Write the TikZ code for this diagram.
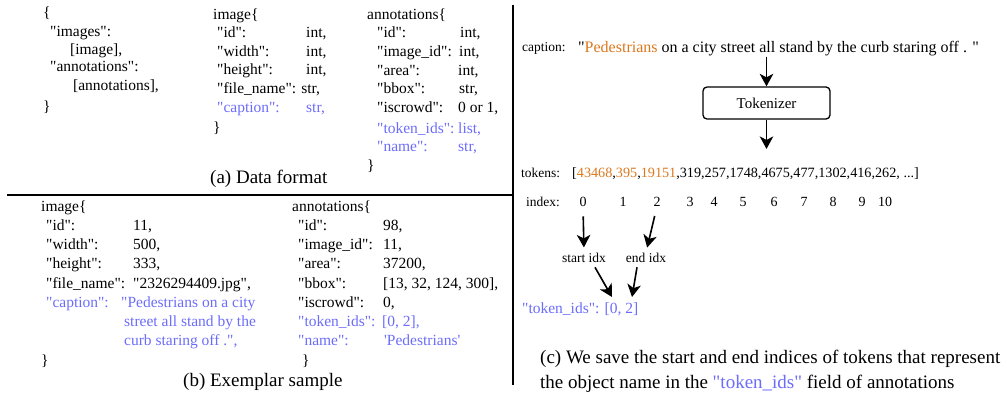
\documentclass[tikz,border=0pt]{standalone}
\usepackage{fontspec}
\newfontfamily\tnr{Liberation Serif}
\usetikzlibrary{arrows.meta}
\definecolor{kblue}{RGB}{108,108,250}
\definecolor{korange}{RGB}{218,120,30}
\begin{document}
\begin{tikzpicture}[x=1pt,y=-1pt,
  tx/.style={anchor=base west,inner sep=0pt,font=\tnr\fontsize{15.5}{18}\selectfont},
  sm/.style={anchor=base west,inner sep=0pt,font=\tnr\fontsize{13.5}{16}\selectfont},
  capt/.style={anchor=base west,inner sep=0pt,font=\tnr\fontsize{19}{22}\selectfont},
  dig/.style={anchor=base,inner sep=0pt,font=\tnr\fontsize{14}{16}\selectfont},
  bl/.style={text=kblue},
  arr/.style={-{Stealth[length=12.5pt,width=13.5pt,inset=3.5pt]},line width=1.6pt},
  sepline/.style={line width=1.5pt}]
\useasboundingbox (0,0) rectangle (1003,393);
% separators
\draw[sepline] (513,5) -- (513,385);
\draw[sepline] (7,195) -- (513,195);
% ---------- (a) ----------
\node[tx] (a0) at (43,18) {\{};
\node[tx] (a1) at (50,37) {"images":};
\node[tx] (a2) at (70,55) {[image],};
\node[tx] (a3) at (50,72) {"annotations":};
\node[tx] (a4) at (73,91) {[annotations],};
\node[tx] (a5) at (43,111) {\}};
\node[tx] (b0) at (213,20) {image\{};
\node[tx] (b1) at (217,38) {"id":};
\node[tx] (b1v) at (306,38) {int,};
\node[tx] (b2) at (217,57) {"width":};
\node[tx] (b2v) at (306,57) {int,};
\node[tx] (b3) at (217,75) {"height":};
\node[tx] (b3v) at (306,75) {int,};
\node[tx] (b4) at (217,94) {"file\_name": str,};
\node[tx,bl] (b5) at (217,113) {"caption":};
\node[tx,bl] (b5v) at (306,113) {str,};
\node[tx] (b6) at (213,132) {\}};
\node[tx] (c0) at (367,20) {annotations\{};
\node[tx] (c1) at (377,38) {"id":};
\node[tx] (c1v) at (460,38) {int,};
\node[tx] (c2) at (377,57) {"image\_id":};
\node[tx] (c2v) at (459,57) {int,};
\node[tx] (c3) at (377,76) {"area":};
\node[tx] (c3v) at (458,76) {int,};
\node[tx] (c4) at (377,94) {"bbox":};
\node[tx] (c4v) at (459,94) {str,};
\node[tx] (c5) at (377,113) {"iscrowd":};
\node[tx] (c5v) at (458,113) {0 or 1,};
\node[tx,bl] (c6) at (377,133) {"token\_ids":};
\node[tx,bl] (c6v) at (458,133) {list,};
\node[tx,bl] (c7) at (377,151) {"name":};
\node[tx,bl] (c7v) at (458,151) {str,};
\node[tx] (c8) at (367,170) {\}};
\node[capt] (capa) at (210,183) {(a) Data format};
% ---------- (b) ----------
\node[tx] (d0) at (41,211) {image\{};
\node[tx] (d1) at (46,230) {"id":};
\node[tx] (d1v) at (133,230) {11,};
\node[tx] (d2) at (46,249) {"width":};
\node[tx] (d2v) at (133,249) {500,};
\node[tx] (d3) at (46,268) {"height":};
\node[tx] (d3v) at (133,268) {333,};
\node[tx] (d4) at (46,288) {"file\_name":};
\node[tx] (d4v) at (133,288) {"2326294409.jpg",};
\node[tx,bl] (d5) at (46,307) {"caption":};
\node[tx,bl] (d5v) at (121,307) {"Pedestrians on a city};
\node[tx,bl] (d6) at (124,326) {street all stand by the};
\node[tx,bl] (d7) at (124,345) {curb staring off .",};
\node[tx] (d8) at (41,365) {\}};
\node[tx] (e0) at (292,211) {annotations\{};
\node[tx] (e1) at (298,230) {"id":};
\node[tx] (e1v) at (383,230) {98,};
\node[tx] (e2) at (298,249) {"image\_id":};
\node[tx] (e2v) at (383,249) {11,};
\node[tx] (e3) at (298,268) {"area":};
\node[tx] (e3v) at (383,268) {37200,};
\node[tx] (e4) at (298,288) {"bbox":};
\node[tx] (e4v) at (383,288) {[13, 32, 124, 300],};
\node[tx] (e5) at (298,307) {"iscrowd":};
\node[tx] (e5v) at (383,307) {0,};
\node[tx,bl] (e6) at (298,326) {"token\_ids":};
\node[tx,bl] (e6v) at (382,326) {[0, 2],};
\node[tx,bl] (e7) at (298,345) {"name":};
\node[tx,bl] (e7v) at (384,345) {'Pedestrians'};
\node[tx] (e8) at (302,365) {\}};
\node[capt] (capb) at (183,386) {(b) Exemplar sample};
% ---------- (c) ----------
\node[sm] (capl) at (522,52) {caption:};
\node[anchor=base west,inner sep=0pt,font=\tnr\fontsize{16}{19}\selectfont] (cap) at (578,53)
  {"\textcolor{korange}{Pedestrians} on a city street all stand by the curb staring off . "};
\node[draw,line width=1.3pt,rounded corners=4pt,minimum width=127pt,minimum height=32pt,
  inner sep=0pt,font=\tnr\fontsize{15}{18}\selectfont] (tok) at (766.5,103) {Tokenizer};
\node[sm] (tokl) at (521,177) {tokens:};
\node[anchor=base west,inner sep=0pt,font=\tnr\fontsize{14.2}{17}\selectfont] (toks) at (572,177)
  {[\textcolor{korange}{43468},\textcolor{korange}{395},\textcolor{korange}{19151},319,257,1748,4675,477,1302,416,262, ...]};
\node[sm] (idxl) at (526,206) {index:};
\node[dig] (i0) at (583,206) {0};
\node[dig] (i1) at (623,206) {1};
\node[dig] (i2) at (657,206) {2};
\node[dig] (i3) at (690,206) {3};
\node[dig] (i4) at (714,206) {4};
\node[dig] (i5) at (743,206) {5};
\node[dig] (i6) at (774,206) {6};
\node[dig] (i7) at (804,206) {7};
\node[dig] (i8) at (833,206) {8};
\node[dig] (i9) at (862,206) {9};
\node[dig] (i10) at (885,206) {10};
\node[anchor=base,inner sep=0pt,font=\tnr\fontsize{13.5}{16}\selectfont] (sidx) at (584,262) {start idx};
\node[anchor=base,inner sep=0pt,font=\tnr\fontsize{13.5}{16}\selectfont] (eidx) at (646,262) {end idx};
\node[tx,bl] (tids) at (522,313) {"token\_ids": [0, 2]};
\coordinate (t0) at (612,297);
\coordinate (t2) at (632,297);
\node[capt] (capc1) at (540,363) {(c) We save the start and end indices of tokens that represent};
\node[capt] (capc2) at (540,388) {the object name in the \textcolor{kblue}{"token\_ids"} field of annotations};
% arrows
\draw[arr] (tok.north |- cap.south) -- (tok.north);
\draw[arr,shorten >=18pt] (tok.south) -- (tok.south |- toks.north);
\draw[arr,shorten <=10pt,shorten >=5pt] (i0.south) -- (sidx.north);
\draw[arr,shorten <=10pt,shorten >=5pt] (i2.south) -- (eidx.north);
\draw[arr] ([xshift=11pt,yshift=-5pt]sidx.south) -- (t0);
\draw[arr] ([xshift=-9pt,yshift=-5pt]eidx.south) -- (t2);
\end{tikzpicture}
\end{document}
